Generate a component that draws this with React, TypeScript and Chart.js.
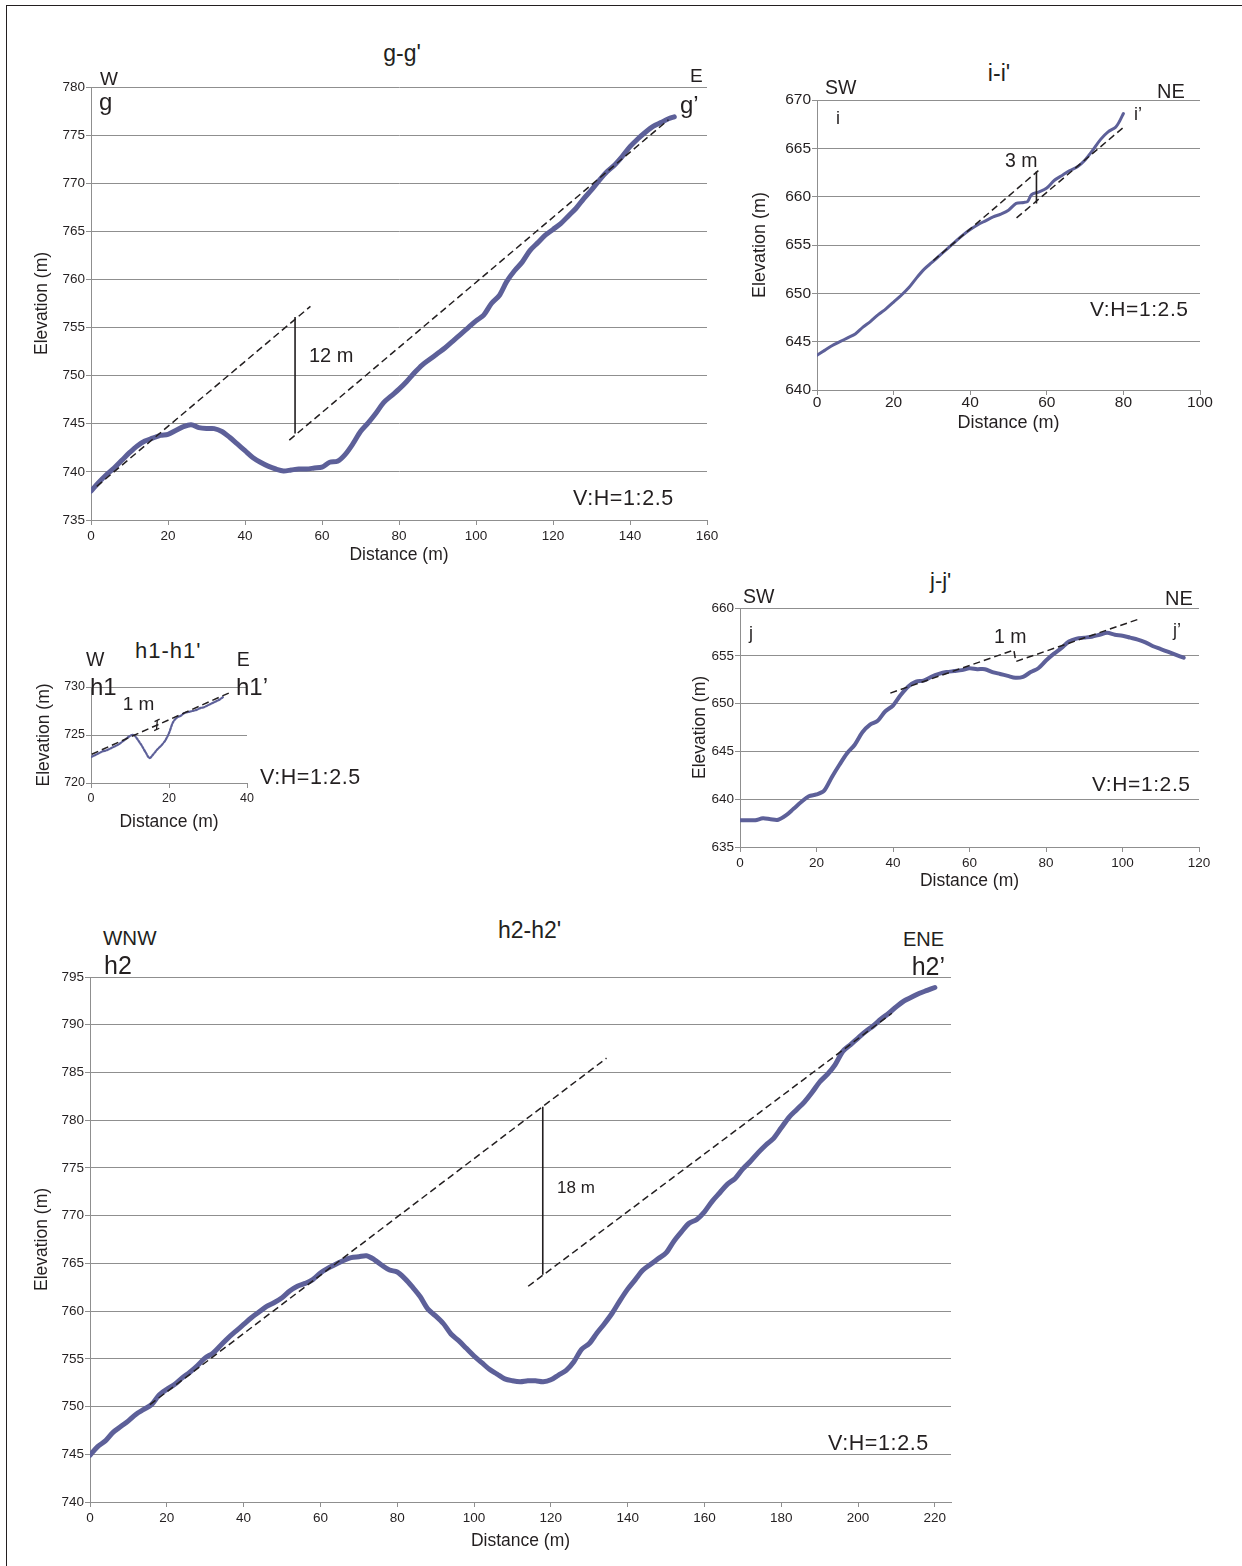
import React, { useEffect, useRef } from "react";
import { Chart, registerables } from "chart.js";

Chart.register(...registerables);

const FONT = '"Liberation Sans", Arial, Helvetica, sans-serif';
const INK = "#231f20";
const PROFILE = "#5d6099";
const GRID = "#8f8f8f";

// ---------- g-g' ----------
const gDist = [0, 2, 4, 6, 8, 10, 12, 14, 16, 18, 20, 22, 24, 26, 28, 30, 32, 34, 36, 38, 40, 42, 44, 46, 48, 50, 52, 54, 56, 58, 60, 62, 64, 66, 68, 70, 72, 74, 76, 78, 80, 82, 84, 86, 88, 90, 92, 94, 96, 98, 100, 102, 104, 106, 108, 110, 112, 114, 116, 118, 120, 122, 124, 126, 128, 130, 132, 134, 136, 138, 140, 142, 144, 146, 148, 150, 151.5];
const gElev = [738.0, 738.9, 739.7, 740.4, 741.2, 742.0, 742.7, 743.2, 743.5, 743.8, 743.9, 744.3, 744.7, 744.9, 744.6, 744.5, 744.5, 744.2, 743.6, 742.9, 742.2, 741.5, 741.0, 740.6, 740.3, 740.1, 740.2, 740.3, 740.3, 740.4, 740.5, 741.0, 741.1, 741.8, 742.9, 744.2, 745.1, 746.1, 747.2, 747.9, 748.6, 749.4, 750.3, 751.1, 751.7, 752.3, 752.9, 753.6, 754.3, 755.0, 755.7, 756.3, 757.5, 758.3, 759.8, 760.9, 761.8, 763.0, 763.8, 764.6, 765.2, 765.8, 766.6, 767.4, 768.4, 769.3, 770.3, 771.2, 771.9, 772.8, 773.8, 774.6, 775.3, 775.9, 776.3, 776.7, 776.9];
const gDashUpperX = [1.5, 57];
const gDashUpperY = [738.5, 757.2];
const gDashLowerX = [51.5, 150];
const gDashLowerY = [743.3, 776.6];
const gOffsetX = [53, 53];
const gOffsetY = [756.1, 744.0];

// ---------- i-i' ----------
const iDist = [0, 2, 4, 6, 8, 10, 12, 14, 16, 18, 20, 22, 24, 26, 28, 30, 32, 34, 36, 38, 40, 42, 44, 46, 48, 50, 52, 54, 55, 56, 58, 60, 62, 64, 66, 68, 70, 72, 74, 76, 78, 79, 80];
const iElev = [643.6, 644.1, 644.6, 645.0, 645.4, 645.8, 646.5, 647.1, 647.8, 648.4, 649.1, 649.8, 650.6, 651.6, 652.5, 653.2, 653.9, 654.6, 655.3, 656.0, 656.6, 657.1, 657.5, 657.9, 658.2, 658.6, 659.3, 659.4, 659.5, 660.2, 660.5, 660.9, 661.7, 662.2, 662.7, 663.1, 663.8, 664.8, 665.9, 666.7, 667.2, 667.8, 668.6];
const iDashUpperX = [30.4, 57.8];
const iDashUpperY = [653.4, 662.7];
const iDashLowerX = [52.1, 79.8];
const iDashLowerY = [657.8, 667.1];
const iOffsetX = [57.3, 57.3];
const iOffsetY = [662.6, 659.3];

// ---------- h1-h1' ----------
const h1Dist = [0, 1, 2, 3, 4, 5, 6, 7, 8, 9, 10, 11, 12, 13, 14, 15, 16, 17, 18, 19, 20, 21, 22, 23, 24, 25, 26, 27, 28, 29, 30, 31, 32, 33, 34];
const h1Elev = [722.7, 722.9, 723.1, 723.3, 723.4, 723.6, 723.8, 724.0, 724.3, 724.6, 724.9, 725.0, 724.5, 723.9, 723.2, 722.6, 723.0, 723.5, 723.9, 724.4, 725.2, 726.3, 726.8, 727.0, 727.3, 727.4, 727.5, 727.6, 727.8, 727.9, 728.1, 728.3, 728.5, 728.7, 729.0];
const h1DashX = [0.2, 35.5];
const h1DashY = [723.0, 729.4];
const h1OffsetX = [16.3, 17.6, 17.0, 16.9, 16.2, 17.5];
const h1OffsetY = [726.4, 726.65, null, null, 725.45, 725.7];
const h1OffsetStemX = [17.0, 16.8];
const h1OffsetStemY = [726.55, 725.55];

// ---------- j-j' ----------
const jDist = [0, 2, 4, 6, 8, 10, 12, 14, 16, 18, 20, 22, 24, 26, 28, 30, 32, 34, 36, 38, 40, 42, 44, 46, 48, 50, 52, 54, 56, 58, 60, 62, 64, 66, 68, 70, 72, 74, 76, 78, 80, 82, 84, 86, 88, 90, 92, 94, 96, 98, 100, 102, 104, 106, 108, 110, 112, 114, 116];
const jElev = [637.8, 637.8, 637.8, 638.0, 637.9, 637.85, 638.3, 639.0, 639.7, 640.3, 640.5, 640.9, 642.3, 643.6, 644.8, 645.7, 647.0, 647.8, 648.2, 649.2, 649.8, 650.9, 651.8, 652.3, 652.4, 652.8, 653.1, 653.3, 653.4, 653.5, 653.7, 653.6, 653.6, 653.3, 653.1, 652.9, 652.7, 652.8, 653.3, 653.7, 654.5, 655.2, 655.8, 656.5, 656.8, 656.9, 657.0, 657.2, 657.4, 657.2, 657.1, 656.9, 656.7, 656.4, 656.0, 655.7, 655.4, 655.1, 654.8];
const jDashX = [39.3, 71.6, 72.1, 104.7];
const jDashY = [651.1, 655.6, 654.4, 658.9];

// ---------- h2-h2' ----------
const h2Dist = [0, 2, 4, 6, 8, 10, 12, 14, 16, 18, 20, 22, 24, 26, 28, 30, 32, 34, 36, 38, 40, 42, 44, 46, 48, 50, 52, 54, 56, 58, 60, 62, 64, 66, 68, 70, 72, 74, 76, 78, 80, 82, 84, 86, 88, 90, 92, 94, 96, 98, 100, 102, 104, 106, 108, 110, 112, 114, 116, 118, 120, 122, 124, 126, 128, 130, 132, 134, 136, 138, 140, 142, 144, 146, 148, 150, 152, 154, 156, 158, 160, 162, 164, 166, 168, 170, 172, 174, 176, 178, 180, 182, 184, 186, 188, 190, 192, 194, 196, 198, 200, 202, 204, 206, 208, 210, 212, 214, 216, 218, 220];
const h2Elev = [744.9, 745.8, 746.4, 747.3, 747.9, 748.5, 749.2, 749.7, 750.2, 751.2, 751.8, 752.3, 753.0, 753.6, 754.3, 755.1, 755.6, 756.4, 757.2, 757.9, 758.6, 759.3, 759.9, 760.5, 760.9, 761.4, 762.1, 762.6, 762.9, 763.3, 764.0, 764.5, 764.9, 765.3, 765.6, 765.7, 765.8, 765.4, 764.8, 764.3, 764.1, 763.4, 762.5, 761.5, 760.2, 759.5, 758.7, 757.6, 756.9, 756.1, 755.3, 754.6, 753.9, 753.4, 752.9, 752.7, 752.6, 752.7, 752.7, 752.6, 752.8, 753.3, 753.8, 754.7, 756.0, 756.6, 757.7, 758.7, 759.8, 761.1, 762.3, 763.3, 764.3, 764.9, 765.5, 766.1, 767.3, 768.3, 769.2, 769.6, 770.4, 771.5, 772.4, 773.3, 773.9, 774.9, 775.7, 776.6, 777.4, 778.1, 779.2, 780.3, 781.1, 781.9, 782.9, 784.0, 784.8, 785.8, 787.2, 787.9, 788.6, 789.3, 789.9, 790.6, 791.2, 791.9, 792.5, 792.9, 793.3, 793.6, 793.9];
const h2DashUpperX = [15.6, 134.5];
const h2DashUpperY = [750.2, 786.5];
const h2DashLowerX = [114.1, 208.8];
const h2DashLowerY = [762.6, 791.2];
const h2OffsetX = [117.9, 117.9];
const h2OffsetY = [781.4, 763.8];

// ---------- helpers ----------
const pts = (xs: number[], ys: (number | null)[]) => xs.map((x, i) => ({ x, y: ys[i] }));

const profileDs = (xs: number[], ys: number[], width: number, dash?: number[]) => ({
  data: pts(xs, ys),
  borderColor: PROFILE,
  backgroundColor: PROFILE,
  borderWidth: width,
  borderDash: dash || [],
  pointRadius: 0,
  tension: 0.3,
  borderCapStyle: "round",
  borderJoinStyle: "round",
  order: 2,
});

const dashDs = (xs: number[], ys: (number | null)[]) => ({
  data: pts(xs, ys),
  borderColor: INK,
  borderWidth: 1.5,
  borderDash: [7, 4],
  pointRadius: 0,
  tension: 0,
  order: 0,
});

const solidDs = (xs: number[], ys: (number | null)[], w = 1.6) => ({
  data: pts(xs, ys),
  borderColor: INK,
  borderWidth: w,
  pointRadius: 0,
  tension: 0,
  spanGaps: false,
  order: 0,
});

interface Spec {
  L: number; R: number; T: number; B: number;
  yTitleX: number; xTitleY: number;
  xMin: number; xMax: number; xStep: number;
  yMin: number; yMax: number; yStep: number;
  tickSize: number; titleSize: number; xTickPad?: number;
  datasets: any[];
}

const ProfileChart: React.FC<{ spec: Spec }> = ({ spec }) => {
  const ref = useRef<HTMLCanvasElement | null>(null);
  const lh = spec.titleSize * 1.2;
  const cl = Math.round(spec.yTitleX - lh / 2 - 2);
  const yW = spec.L - cl;
  const padTop = 12;
  const padRight = 24;
  const ct = spec.T - padTop;
  const xH = Math.round(spec.xTitleY + lh / 2 + 2 - spec.B);
  const cw = spec.R + padRight - cl;
  const ch = spec.B + xH - ct;

  useEffect(() => {
    if (!ref.current) return;
    const tickFont = { family: FONT, size: spec.tickSize };
    const titleFont = { family: FONT, size: spec.titleSize };
    const chart = new Chart(ref.current, {
      type: "line",
      data: { datasets: spec.datasets },
      options: {
        responsive: false,
        animation: false,
        events: [],
        layout: { padding: { left: 0, top: padTop, right: padRight, bottom: 0 } },
        plugins: { legend: { display: false }, tooltip: { enabled: false }, title: { display: false } },
        scales: {
          x: {
            type: "linear",
            position: "bottom",
            min: spec.xMin,
            max: spec.xMax,
            ticks: { stepSize: spec.xStep, includeBounds: false, font: tickFont, color: INK, padding: spec.xTickPad ?? 3, maxRotation: 0, autoSkip: false },
            grid: { drawOnChartArea: false, drawTicks: true, tickLength: 5, color: GRID, lineWidth: 1 },
            border: { display: true, color: GRID, width: 1 },
            title: { display: true, text: "Distance (m)", font: titleFont, color: INK, padding: { top: 0, bottom: 2 } },
            afterFit: (s: any) => { s.height = xH; },
          },
          y: {
            type: "linear",
            position: "left",
            min: spec.yMin,
            max: spec.yMax,
            ticks: { stepSize: spec.yStep, font: tickFont, color: INK, padding: 1, autoSkip: false },
            grid: { drawOnChartArea: true, drawTicks: true, tickLength: 5, color: GRID, lineWidth: 1 },
            border: { display: true, color: GRID, width: 1 },
            title: { display: true, text: "Elevation (m)", font: titleFont, color: INK, padding: { top: 2, bottom: 0 } },
            afterFit: (s: any) => { s.width = yW; },
          },
        },
      } as any,
    });
    return () => chart.destroy();
  }, []);

  return (
    <canvas
      ref={ref}
      width={cw}
      height={ch}
      style={{ position: "absolute", left: cl, top: ct, width: cw, height: ch }}
    />
  );
};

const Txt: React.FC<{ x: number; y: number; s: number; t: string; a?: "left" | "center" | "right"; ls?: number }> = ({ x, y, s, t, a = "left", ls = 0 }) => (
  <div
    style={{
      position: "absolute",
      left: x,
      top: y - 0.8465 * s,
      fontSize: s,
      lineHeight: 1,
      fontFamily: FONT,
      color: INK,
      whiteSpace: "nowrap",
      letterSpacing: ls,
      transform: a === "center" ? "translateX(-50%)" : a === "right" ? "translateX(-100%)" : undefined,
    }}
  >
    {t}
  </div>
);

const specs: Spec[] = [
  {
    L: 91, R: 707, T: 87, B: 520, yTitleX: 42, xTitleY: 555,
    xMin: 0, xMax: 160, xStep: 20, yMin: 735, yMax: 780, yStep: 5,
    tickSize: 13.5, titleSize: 17.5,
    datasets: [
      dashDs(gDashUpperX, gDashUpperY),
      dashDs(gDashLowerX, gDashLowerY),
      solidDs(gOffsetX, gOffsetY),
      profileDs(gDist, gElev, 5),
    ],
  },
  {
    L: 817, R: 1200, T: 100, B: 390, yTitleX: 760, xTitleY: 423,
    xMin: 0, xMax: 100, xStep: 20, yMin: 640, yMax: 670, yStep: 5,
    tickSize: 15.5, titleSize: 18, xTickPad: -2,
    datasets: [
      dashDs(iDashUpperX, iDashUpperY),
      dashDs(iDashLowerX, iDashLowerY),
      solidDs(iOffsetX, iOffsetY),
      profileDs(iDist, iElev, 3),
    ],
  },
  {
    L: 91, R: 247, T: 687, B: 783, yTitleX: 44, xTitleY: 822,
    xMin: 0, xMax: 40, xStep: 20, yMin: 720, yMax: 730, yStep: 5,
    tickSize: 12.5, titleSize: 17.5,
    datasets: [
      dashDs(h1DashX, h1DashY),
      solidDs(h1OffsetX, h1OffsetY, 1.3),
      solidDs(h1OffsetStemX, h1OffsetStemY, 1.3),
      profileDs(h1Dist, h1Elev, 2.2, [2, 1.5]),
    ],
  },
  {
    L: 740, R: 1199, T: 608, B: 847, yTitleX: 700, xTitleY: 881,
    xMin: 0, xMax: 120, xStep: 20, yMin: 635, yMax: 660, yStep: 5,
    tickSize: 13.5, titleSize: 17.5,
    datasets: [
      dashDs(jDashX, jDashY),
      profileDs(jDist, jElev, 4),
    ],
  },
  {
    L: 90, R: 951, T: 977, B: 1502, yTitleX: 42, xTitleY: 1541,
    xMin: 0, xMax: 224.2, xStep: 20, yMin: 740, yMax: 795, yStep: 5,
    tickSize: 13.5, titleSize: 17.5,
    datasets: [
      dashDs(h2DashUpperX, h2DashUpperY),
      dashDs(h2DashLowerX, h2DashLowerY),
      solidDs(h2OffsetX, h2OffsetY),
      profileDs(h2Dist, h2Elev, 5),
    ],
  },
];

export default function App() {
  return (
    <div style={{ position: "absolute", left: 0, top: 0, width: 1242, height: 1566, overflow: "hidden", background: "#fff" }}>
      <div style={{ position: "absolute", left: 6, top: 5, width: 1250, height: 1600, borderTop: `1.5px solid ${INK}`, borderLeft: `1.5px solid ${INK}` }} />
      {specs.map((s, i) => (
        <ProfileChart key={i} spec={s} />
      ))}

      {/* g-g' */}
      <Txt x={402} y={61.5} s={23} t="g-g'" a="center" />
      <Txt x={100} y={85} s={19} t="W" />
      <Txt x={99} y={110} s={24} t="g" />
      <Txt x={690} y={82} s={19} t="E" />
      <Txt x={680} y={113} s={24} t="g’" />
      <Txt x={309} y={361.5} s={20} t="12 m" />
      <Txt x={573} y={506} s={21.5} t="V:H=1:2.5" ls={0.6} />

      {/* i-i' */}
      <Txt x={999} y={81.7} s={23} t="i-i'" a="center" />
      <Txt x={825} y={95} s={19.5} t="SW" />
      <Txt x={1157} y={97.7} s={20} t="NE" />
      <Txt x={836} y={124} s={18} t="i" />
      <Txt x={1134} y={120} s={18} t="i’" />
      <Txt x={1005} y={167.3} s={19.5} t="3 m" />
      <Txt x={1090} y={315.7} s={21} t="V:H=1:2.5" ls={0.6} />

      {/* h1-h1' */}
      <Txt x={135} y={658.3} s={22} t="h1-h1'" ls={1} />
      <Txt x={86} y={666.7} s={19.5} t="W" />
      <Txt x={236.7} y={666.7} s={19.5} t="E" />
      <Txt x={90} y={695} s={24} t="h1" />
      <Txt x={236} y={695} s={24} t="h1’" />
      <Txt x={122.7} y={710} s={19} t="1 m" />
      <Txt x={260} y={785} s={21.5} t="V:H=1:2.5" ls={0.6} />

      {/* j-j' */}
      <Txt x={930} y={589} s={22} t="j-j'" />
      <Txt x={743} y={603.3} s={19.5} t="SW" />
      <Txt x={1165} y={605} s={20} t="NE" />
      <Txt x={749} y={639.5} s={18} t="j" />
      <Txt x={1173} y={636} s={18} t="j’" />
      <Txt x={994} y={643.3} s={19.5} t="1 m" />
      <Txt x={1092} y={790.7} s={21} t="V:H=1:2.5" ls={0.6} />

      {/* h2-h2' */}
      <Txt x={498} y={938.3} s={23} t="h2-h2'" />
      <Txt x={103} y={945} s={20.5} t="WNW" />
      <Txt x={104} y={974.3} s={25} t="h2" />
      <Txt x={903} y={946} s={20} t="ENE" />
      <Txt x={945} y={975} s={25} t="h2’" a="right" />
      <Txt x={557} y={1193.3} s={17} t="18 m" />
      <Txt x={828} y={1450.7} s={21.5} t="V:H=1:2.5" ls={0.6} />
    </div>
  );
}
